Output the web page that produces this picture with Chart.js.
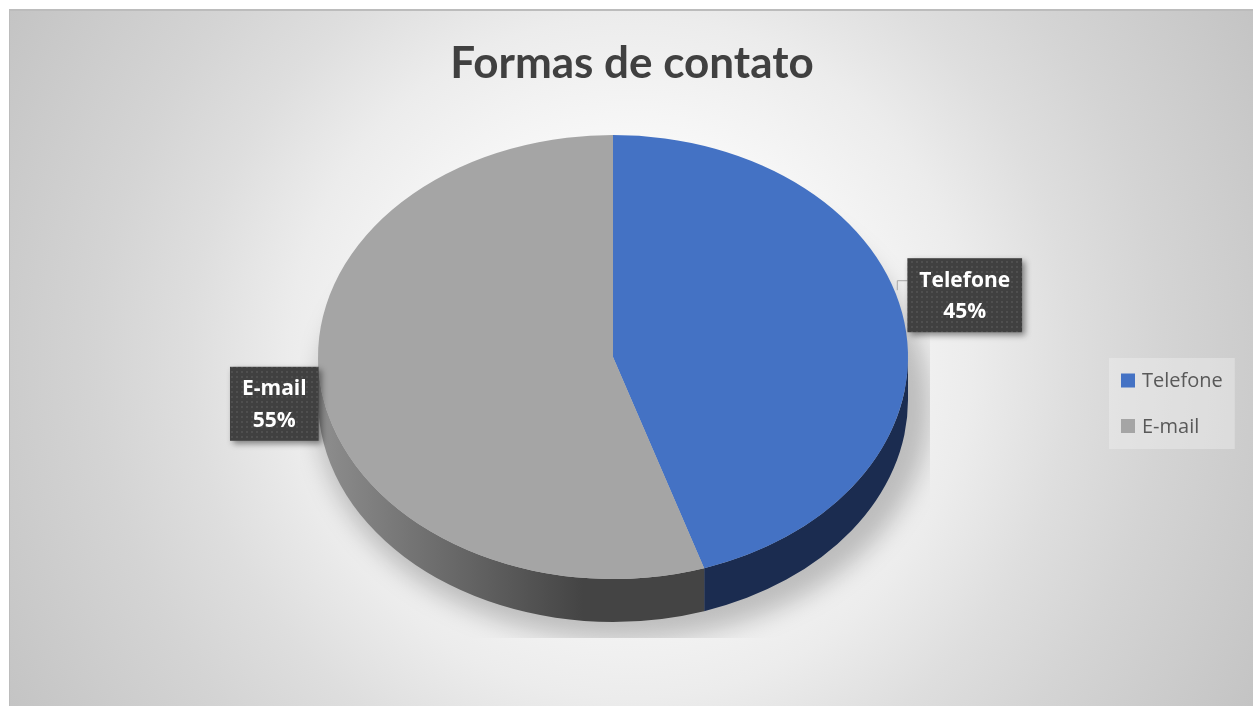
<!DOCTYPE html>
<html>
<head>
<meta charset="utf-8">
<title>Formas de contato</title>
<script src="https://cdn.jsdelivr.net/npm/chart.js"></script>
<style>
  html, body { margin: 0; padding: 0; background: #fff; }
  canvas { display: block; }
</style>
</head>
<body>
<canvas id="chart" width="1253" height="706"></canvas>
<script>
const chartTitle = "Formas de contato";
const labels = ["Telefone", "E-mail"];
const values = [45, 55];

const topColors = ["#4472c4", "#a5a5a5"];
// rim colours: [left end, rest]
const sideColors = [["#1b2c50", "#1b2c50"], ["#8e8e8e", "#444444"]];

const TILT = 222 / 295; // how flat the pie looks
const DEPTH = 43;       // rim height in px
const TITLE_FONT = "Lato, 'Open Sans', sans-serif";
const FONT = "'Open Sans', Lato, sans-serif";

function pct(i) {
  const total = values.reduce((a, b) => a + b, 0);
  return Math.round(values[i] / total * 100) + "%";
}

// dark dotted fill for the data label boxes
function dotPattern(ctx) {
  const c = document.createElement("canvas");
  c.width = 5;
  c.height = 5;
  const p = c.getContext("2d");
  p.fillStyle = "#404040";
  p.fillRect(0, 0, 5, 5);
  p.fillStyle = "#4f4f4f";
  p.fillRect(1, 1, 2, 2);
  return ctx.createPattern(c, "repeat");
}

const pie3d = {
  id: "pie3d",
  beforeDraw(chart) {
    const { ctx, width, height } = chart;
    ctx.save();
    ctx.fillStyle = "#ffffff";
    ctx.fillRect(0, 0, width, height);

    const g = ctx.createRadialGradient(631, 357, 0, 631, 357, 711);
    g.addColorStop(0, "#ffffff");
    g.addColorStop(0.25, "#fbfbfb");
    g.addColorStop(0.48, "#ececec");
    g.addColorStop(0.62, "#dedede");
    g.addColorStop(0.75, "#d4d4d4");
    g.addColorStop(1, "#c4c4c4");
    ctx.fillStyle = g;
    ctx.fillRect(9, 9, width - 9, height - 9);
    ctx.fillStyle = "#bcbcbc";
    ctx.fillRect(9, 9, width - 9, 2);
    ctx.fillRect(9, 9, 1, height - 9);

    ctx.fillStyle = "#404040";
    ctx.font = "bold 44px " + TITLE_FONT;
    ctx.textAlign = "center";
    ctx.textBaseline = "alphabetic";
    ctx.fillText(chartTitle, 632, 78);
    ctx.restore();
  },

  beforeDatasetsDraw(chart) {
    const ctx = chart.ctx;
    const arcs = chart.getDatasetMeta(0).data;
    const { x, y, outerRadius: r } = arcs[0];
    const ry = r * TILT;

    // soft shadow, cut off by the plot box like in Excel
    ctx.save();
    ctx.beginPath();
    ctx.rect(x - r - 18, y - ry, 2 * r + 40, 2 * ry + DEPTH + 16);
    ctx.clip();
    ctx.filter = "blur(12px)";
    ctx.fillStyle = "rgba(0,0,0,0.22)";
    ctx.beginPath();
    ctx.ellipse(x + 10, y + DEPTH + 6, r + 12, ry + 12, 0, 0, Math.PI * 2);
    ctx.fill();
    ctx.restore();

    // rim: only the front half (0..PI) shows
    arcs.forEach((arc, i) => {
      const a1 = Math.max(arc.startAngle, 0);
      const a2 = Math.min(arc.endAngle, Math.PI);
      if (a2 <= a1) return;
      const grad = ctx.createLinearGradient(x - r, 0, x + r, 0);
      grad.addColorStop(0, sideColors[i][0]);
      grad.addColorStop(0.45, sideColors[i][1]);
      grad.addColorStop(1, sideColors[i][1]);
      ctx.save();
      ctx.fillStyle = grad;
      ctx.beginPath();
      ctx.ellipse(x, y, r, ry, 0, a1, a2);
      ctx.ellipse(x, y + DEPTH, r, ry, 0, a2, a1, true);
      ctx.closePath();
      ctx.fill();
      ctx.restore();
    });

    // flatten the top face drawn by chart.js
    ctx.save();
    ctx.translate(x, y);
    ctx.scale(1, TILT);
    ctx.translate(-x, -y);
  },

  afterDatasetsDraw(chart) {
    chart.ctx.restore();
  },

  afterDraw(chart) {
    const ctx = chart.ctx;
    const arcs = chart.getDatasetMeta(0).data;
    const pattern = dotPattern(ctx);

    arcs.forEach((arc, i) => {
      const { x, y, outerRadius: r } = arc;
      const ry = r * TILT;
      const mid = (arc.startAngle + arc.endAngle) / 2;
      const dx = Math.cos(mid), dy = Math.sin(mid);
      const px = x + r * dx, py = y + ry * dy;
      const side = dx >= 0 ? 1 : -1;

      ctx.save();
      ctx.font = "bold 21px " + FONT;
      const lines = [labels[i], pct(i)];
      const w = Math.max(...lines.map(t => ctx.measureText(t).width)) + 24;
      const h = 74;
      const cx = px + side * (w / 2 + 3);
      const cy = py - 7.5 + dy * 125;
      const left = cx - w / 2, top = cy - h / 2;

      // leader line when the box sits away from the rim
      const ly = top + 22;
      const ex = x + side * r * Math.sqrt(Math.max(0, 1 - ((ly - y) / ry) ** 2));
      const gap = side > 0 ? left - ex : ex - (left + w);
      if (gap > 8) {
        const bx = side > 0 ? left : left + w;
        ctx.strokeStyle = "#a6a6a6";
        ctx.lineWidth = 1;
        ctx.beginPath();
        ctx.moveTo(bx, ly + 0.5);
        ctx.lineTo(ex + side * 7 + 0.5, ly + 0.5);
        ctx.lineTo(ex + side * 7 + 0.5, ly + 10);
        ctx.stroke();
      }

      ctx.shadowColor = "rgba(0,0,0,0.45)";
      ctx.shadowBlur = 6;
      ctx.shadowOffsetX = 3;
      ctx.shadowOffsetY = 3;
      ctx.fillStyle = pattern;
      ctx.fillRect(left, top, w, h);
      ctx.shadowColor = "transparent";

      ctx.fillStyle = "#ffffff";
      ctx.textAlign = "center";
      ctx.textBaseline = "alphabetic";
      ctx.fillText(lines[0], cx, top + 28.5);
      ctx.fillText(lines[1], cx, top + 60);
      ctx.restore();
    });

    // legend
    ctx.save();
    ctx.font = "20px " + FONT;
    const lx = chart.width - 144, ly = 358;
    const lw = 12 + 14 + 7 + Math.max(...labels.map(t => ctx.measureText(t).width)) + 12;
    ctx.fillStyle = "rgba(242,242,242,0.4)";
    ctx.fillRect(lx, ly, lw, 91);
    labels.forEach((t, i) => {
      const cy = ly + 22.5 + i * 45.5;
      ctx.fillStyle = topColors[i];
      ctx.fillRect(lx + 12, cy - 7, 14, 14);
      ctx.fillStyle = "#595959";
      ctx.textAlign = "left";
      ctx.textBaseline = "middle";
      ctx.fillText(t, lx + 33, cy + 1);
    });
    ctx.restore();
  }
};

new Chart(document.getElementById("chart"), {
  type: "pie",
  data: {
    labels: labels,
    datasets: [{
      data: values,
      backgroundColor: topColors,
      borderWidth: 0,
      hoverOffset: 0,
      radius: 295,
      clip: false
    }]
  },
  options: {
    responsive: false,
    animation: false,
    devicePixelRatio: 1,
    events: [],
    layout: { padding: { left: 0, right: 27, top: 90, bottom: 82 } },
    plugins: {
      legend: { display: false },
      title: { display: false },
      tooltip: { enabled: false }
    }
  },
  plugins: [pie3d]
});
</script>
</body>
</html>
